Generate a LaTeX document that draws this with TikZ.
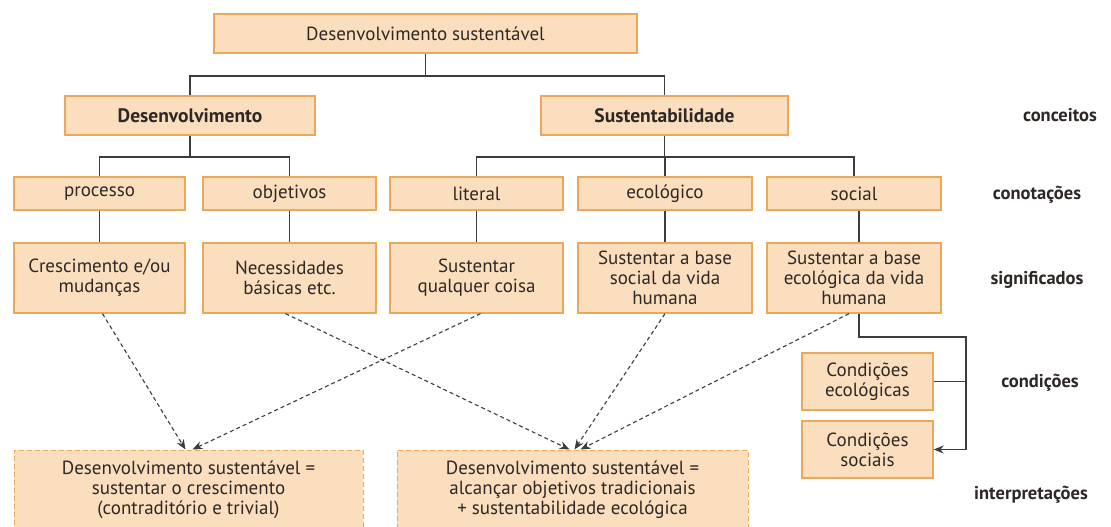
\documentclass[tikz,border=0pt]{standalone}
\usepackage{fontspec}
\setmainfont{PT Sans}
\usetikzlibrary{arrows.meta}
\definecolor{boxfill}{RGB}{251,222,190}
\definecolor{boxline}{RGB}{234,168,92}
\definecolor{ink}{RGB}{45,40,38}
\definecolor{wire}{RGB}{60,60,60}
\tikzset{
  box/.style={draw=boxline, fill=boxfill, line width=1.3pt, inner sep=0pt, align=center, text=ink,
              font=\fontsize{19}{20}\selectfont},
  boldbox/.style={box, font=\fontsize{19.5}{20}\selectfont\bfseries},
  dbox/.style={box, dashed, dash pattern=on 5pt off 3pt, line width=1pt},
  wiring/.style={draw=wire, line width=1.2pt},
  darrow/.style={draw=wire, line width=1.1pt, dash pattern=on 4pt off 3pt, -{Stealth[length=10pt,width=8pt]}},
  lbl/.style={text=ink, font=\fontsize{18.5}{20}\selectfont\bfseries, inner sep=0pt}
}
\begin{document}
\begin{tikzpicture}[x=1pt,y=-1pt]
\useasboundingbox (0,0) rectangle (1111,527);
% level 1
\node[box, minimum width=423pt, minimum height=39pt] (top) at (425.5,33.5) {Desenvolvimento sustentável};
% level 2
\node[boldbox, minimum width=250pt, minimum height=39pt] (des) at (190,115.5) {Desenvolvimento};
\node[boldbox, minimum width=247pt, minimum height=39pt] (sus) at (664.5,115.5) {Sustentabilidade};
% level 3
\node[box, minimum width=171pt, minimum height=33pt] (proc) at (99.5,193.5) {processo};
\node[box, minimum width=173pt, minimum height=33pt] (obj) at (289.5,193.5) {objetivos};
\node[box, minimum width=173pt, minimum height=33pt] (lit) at (476.5,193.5) {literal};
\node[box, minimum width=174pt, minimum height=33pt] (eco) at (665,193.5) {ecológico};
\node[box, minimum width=174pt, minimum height=33pt] (soc) at (854,193.5) {social};
% level 4
\node[box, minimum width=171pt, minimum height=70pt] (cres) at (99.5,278) {Crescimento e/ou\\mudanças};
\node[box, minimum width=173pt, minimum height=70pt] (nec) at (289.5,278) {Necessidades\\básicas etc.};
\node[box, minimum width=173pt, minimum height=70pt] (qual) at (476.5,278) {Sustentar\\qualquer coisa};
\node[box, minimum width=174pt, minimum height=70pt] (socsig) at (665,278) {Sustentar a base\\social da vida\\humana};
\node[box, minimum width=174pt, minimum height=70pt] (ecosig) at (854,278) {Sustentar a base\\ecológica da vida\\humana};
% conditions
\node[box, minimum width=131pt, minimum height=57pt] (condeco) at (867.5,381.5) {Condições\\ecológicas};
\node[box, minimum width=131pt, minimum height=57pt] (condsoc) at (867.5,449.5) {Condições\\sociais};
% interpretations
\node[dbox, minimum width=349pt, minimum height=80pt] (int1) at (188.5,490) {Desenvolvimento sustentável =\\sustentar o crescimento\\(contraditório e trivial)};
\node[dbox, minimum width=351pt, minimum height=80pt] (int2) at (572.5,490) {Desenvolvimento sustentável =\\alcançar objetivos tradicionais\\+ sustentabilidade ecológica};
% row labels
\node[lbl] (l1) at (1060,115) {conceitos};
\node[lbl] (l2) at (1037,195) {conotações};
\node[lbl] (l3) at (1037,280) {significados};
\node[lbl] (l4) at (1040,383) {condições};
\node[lbl] (l5) at (1031,495) {interpretações};
% tree connectors
\coordinate (j1) at (425.5,76);
\coordinate (j2) at (190,157);
\coordinate (j3) at (664.5,157);
\draw[wiring] (top.south) -- (j1);
\draw[wiring] (des.north) |- (j1) -| (sus.north);
\draw[wiring] (des.south) -- (j2);
\draw[wiring] (proc.north) |- (j2) -| (obj.north);
\draw[wiring] (sus.south) -- (j3);
\draw[wiring] (lit.north) |- (j3) -| (soc.north);
\draw[wiring] (eco.north) -- (eco.north |- j3);
\draw[wiring] (proc) -- (cres);
\draw[wiring] (obj) -- (nec);
\draw[wiring] (lit) -- (qual);
\draw[wiring] (eco) -- (socsig);
\draw[wiring] ([xshift=5pt]soc.south) -- ([xshift=5pt]ecosig.north);
% elbow to conditions
\coordinate (bend) at (966,337);
\draw[wiring, -{Stealth[length=10pt,width=8pt]}] ([xshift=5pt]ecosig.south) |- (bend) |- (condsoc.east);
\draw[wiring] (condeco.east) -- (condeco.east -| bend);
% dashed arrows
\draw[darrow] ([xshift=3pt]cres.south) -- ([xshift=-3pt]int1.north);
\draw[darrow] ([xshift=4pt]qual.south) -- ([xshift=4pt]int1.north);
\draw[darrow] ([xshift=-4pt]nec.south) -- ([xshift=-3pt]int2.north);
\draw[darrow] (socsig.south) -- ([xshift=2pt]int2.north);
\draw[darrow] ([xshift=-5pt]ecosig.south) -- ([xshift=8pt]int2.north);
\end{tikzpicture}
\end{document}
